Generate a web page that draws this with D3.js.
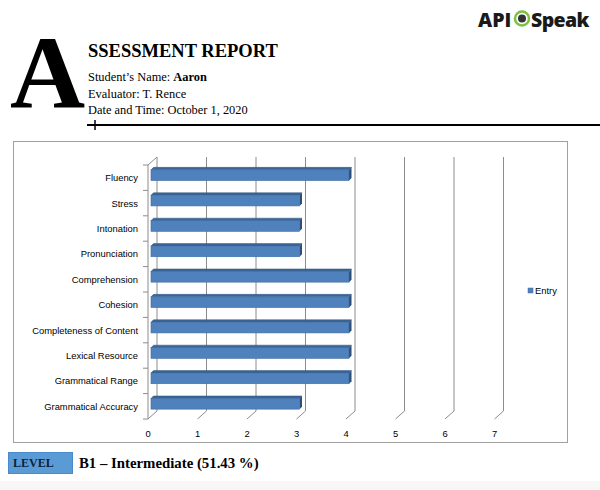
<!DOCTYPE html>
<html><head><meta charset="utf-8">
<script src="https://cdn.jsdelivr.net/npm/d3@7"></script>
<style>body{margin:0;background:#fff}svg{display:block}</style>
</head><body>
<script>
const categories = ["Fluency","Stress","Intonation","Pronunciation","Comprehension","Cohesion","Completeness of Content","Lexical Resource","Grammatical Range","Grammatical Accuracy"];
const entryValues = [4,3,3,3,4,4,4,4,4,3];
const xTicks = [0,1,2,3,4,5,6,7];
const seriesName = "Entry";
const studentName = "Aaron";
const evaluator = "T. Rence";
const dateTime = "October 1, 2020";
const levelText = "B1 – Intermediate (51.43 %)";

const W = 600, H = 490;
const svg = d3.select("body").append("svg").attr("width", W).attr("height", H);
svg.append("rect").attr("x",0).attr("y",481).attr("width",W).attr("height",9).attr("fill","#f7f7f7");

// logo
const logo = svg.append("g");
logo.append("text").attr("x",478).attr("y",27).attr("font-family","'Open Sans', sans-serif").attr("font-weight",800).attr("font-size",19.5).attr("fill","#1a1a1a").text("API");
logo.append("circle").attr("cx",522).attr("cy",18.5).attr("r",7).attr("fill","none").attr("stroke","#7cc242").attr("stroke-width",2.5);
logo.append("circle").attr("cx",522).attr("cy",18.5).attr("r",4).attr("fill","#333");
logo.append("text").attr("x",531).attr("y",27).attr("font-family","'Open Sans', sans-serif").attr("font-weight",800).attr("font-size",19.5).attr("fill","#1a1a1a").attr("letter-spacing",-0.6).text("Speak");

// header
const serif = "'Liberation Serif', 'Times New Roman', serif";
svg.append("text").attr("x",10).attr("y",108).attr("font-family",serif).attr("font-weight","bold").attr("font-size",104).attr("fill","#000").text("A");
svg.append("text").attr("x",88).attr("y",57).attr("font-family",serif).attr("font-weight","bold").attr("font-size",18.5).text("SSESSMENT REPORT");
const t1 = svg.append("text").attr("x",88).attr("y",81).attr("font-family",serif).attr("font-size",12.4);
t1.append("tspan").text("Student’s Name: ");
t1.append("tspan").attr("font-weight","bold").text(studentName);
svg.append("text").attr("x",88).attr("y",97.5).attr("font-family",serif).attr("font-size",12.4).text("Evaluator: " + evaluator);
svg.append("text").attr("x",88).attr("y",113.5).attr("font-family",serif).attr("font-size",12.4).text("Date and Time: " + dateTime);
svg.append("line").attr("x1",87).attr("x2",600).attr("y1",125).attr("y2",125).attr("stroke","#000").attr("stroke-width",2);
svg.append("line").attr("x1",95).attr("x2",95).attr("y1",120).attr("y2",130).attr("stroke","#000").attr("stroke-width",1.5);

// chart box
svg.append("rect").attr("x",13.5).attr("y",141.5).attr("width",554).attr("height",301).attr("fill","#fff").attr("stroke","#a0a0a0").attr("stroke-width",1);

const x = d3.scaleLinear().domain([0,7]).range([148,494.5]);
const y = d3.scaleBand().domain(categories).range([165,419]).paddingInner(0.58).paddingOuter(0.29);
const yAll = d3.scaleBand().domain(categories).range([165,419]);
const DX = 9, DY = -8;
const grid = "#8c8c8c";
const g = svg.append("g");

// back wall gridlines + floor diagonals
xTicks.forEach(v => {
  g.append("line").attr("x1",x(v)+DX).attr("x2",x(v)+DX).attr("y1",165+DY).attr("y2",419+DY).attr("stroke",grid).attr("stroke-width",1);
  g.append("line").attr("x1",x(v)).attr("x2",x(v)+DX).attr("y1",419).attr("y2",419+DY).attr("stroke",grid).attr("stroke-width",1);
});
// side wall: vertical axis + top diagonal + ticks
g.append("line").attr("x1",148).attr("x2",148).attr("y1",165).attr("y2",419).attr("stroke",grid);
g.append("line").attr("x1",148).attr("x2",148+DX).attr("y1",165).attr("y2",165+DY).attr("stroke",grid);
categories.concat([null]).forEach((c,i) => {
  const yy = 165 + i*yAll.step();
  g.append("line").attr("x1",143).attr("x2",148).attr("y1",yy).attr("y2",yy).attr("stroke",grid);
});

// bars (3D)
const bx = 3, by = -2.5, bdx = 2.5, bdy = -2.5;
const bars = g.selectAll("g.bar").data(categories.map((c,i)=>({c, v: entryValues[i]}))).join("g").attr("class","bar");
bars.append("path").attr("fill","#3a6595").attr("stroke","#2f5783").attr("stroke-width",0.5)
  .attr("d", d => {
    const x0 = x(0)+bx, x1 = x(d.v)+bx, y0 = y(d.c)+by;
    return `M${x0},${y0}L${x0+bdx},${y0+bdy}L${x1+bdx},${y0+bdy}L${x1},${y0}Z`;
  });
bars.append("path").attr("fill","#2c4e78")
  .attr("d", d => {
    const x1 = x(d.v)+bx, y0 = y(d.c)+by, y1 = y0 + y.bandwidth();
    return `M${x1},${y0}L${x1+bdx},${y0+bdy}L${x1+bdx},${y1+bdy}L${x1},${y1}Z`;
  });
bars.append("rect").attr("x", x(0)+bx).attr("y", d => y(d.c)+by).attr("width", d => x(d.v)-x(0)).attr("height", y.bandwidth())
  .attr("fill","#4f81bd").attr("stroke","#3f6da5").attr("stroke-width",0.6);

// labels
const sans = "'Liberation Sans', Arial, sans-serif";
g.selectAll("text.cat").data(categories).join("text").attr("class","cat")
  .attr("x",138).attr("y", c => yAll(c)+yAll.step()/2+3.5).attr("text-anchor","end")
  .attr("font-family",sans).attr("font-size",9.4).attr("fill","#000").text(c => c);
g.selectAll("text.xt").data(xTicks).join("text").attr("class","xt")
  .attr("x", v => x(v)).attr("y",437).attr("text-anchor","middle")
  .attr("font-family",sans).attr("font-size",9.4).text(v => v);

// legend
svg.append("rect").attr("x",528).attr("y",288).attr("width",5).attr("height",5).attr("fill","#4f81bd").attr("stroke","#3f6da5").attr("stroke-width",0.5);
svg.append("text").attr("x",535).attr("y",294).attr("font-family",sans).attr("font-size",9.4).text(seriesName);

// level
svg.append("rect").attr("x",8.5).attr("y",452.5).attr("width",64).attr("height",21).attr("fill","#5b9bd5").attr("stroke","#4a8acb");
svg.append("text").attr("x",13).attr("y",467).attr("font-family",serif).attr("font-weight","bold").attr("font-size",12).attr("fill","#0c1f3f").text("LEVEL");
svg.append("text").attr("x",79).attr("y",468).attr("font-family",serif).attr("font-weight","bold").attr("font-size",14.8).attr("fill","#000").text(levelText);
</script>
</body></html>
